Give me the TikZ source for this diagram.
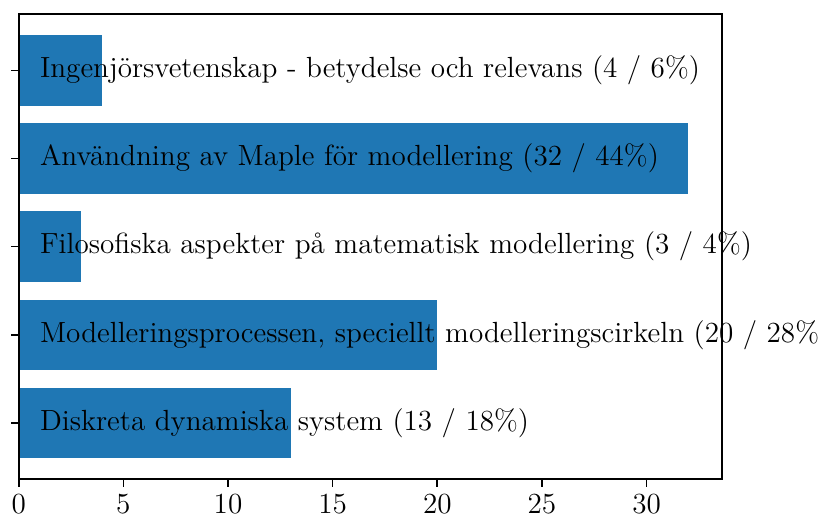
\documentclass[tikz,border=0pt]{standalone}
\definecolor{barblue}{HTML}{1F77B4}
\begin{document}
\begin{tikzpicture}[x=0.48pt,y=-0.48pt,
  bar/.style={fill=barblue,draw=none},
  lbl/.style={anchor=west,inner sep=0pt,font=\fontsize{14}{16.8}\selectfont,text=black},
  ticklbl/.style={anchor=north,inner sep=0pt,font=\fontsize{14}{16.8}\selectfont},
  spine/.style={line width=0.8pt,line cap=rect,black},
  tickmark/.style={line width=0.8pt,black}]
\useasboundingbox (0,0) rectangle (818,519);
\clip (0,0) rectangle (818,519);
\def\xo{18.7}\def\sx{20.93}\def\hh{35.25}
% bars (top to bottom)
\foreach \v/\c in {4/70.4,32/158.5,3/246.6,20/334.8,13/422.9}{
  \fill[bar] (\xo,{\c-\hh}) rectangle ({\xo+\sx*\v},{\c+\hh});
}
% ticks on y axis
\foreach \c in {70.4,158.5,246.6,334.8,422.9}{
  \draw[tickmark] ({\xo-7.3},\c) -- (\xo,\c);
}
% ticks on x axis
\foreach \t in {0,5,...,30}{
  \draw[tickmark] ({\xo+\sx*\t},479.3) -- ({\xo+\sx*\t},486.6);
  \node[ticklbl] (xt\t) at ({\xo+\sx*\t},494) {\t};
}
% spines
\draw[spine] (\xo,14) rectangle (722,479.3);
% labels
\node[lbl] (l1) at ({\xo+\sx},70.4) {Ingenjörsvetenskap - betydelse och relevans (4 / 6\%)};
\node[lbl] (l2) at ({\xo+\sx},158.5) {Användning av Maple för modellering (32 / 44\%)};
\node[lbl] (l3) at ({\xo+\sx},246.6) {Filosofiska aspekter på matematisk modellering (3 / 4\%)};
\node[lbl] (l4) at ({\xo+\sx},334.8) {Modelleringsprocessen, speciellt modelleringscirkeln (20 / 28\%)};
\node[lbl] (l5) at ({\xo+\sx},422.9) {Diskreta dynamiska system (13 / 18\%)};
\end{tikzpicture}
\end{document}
